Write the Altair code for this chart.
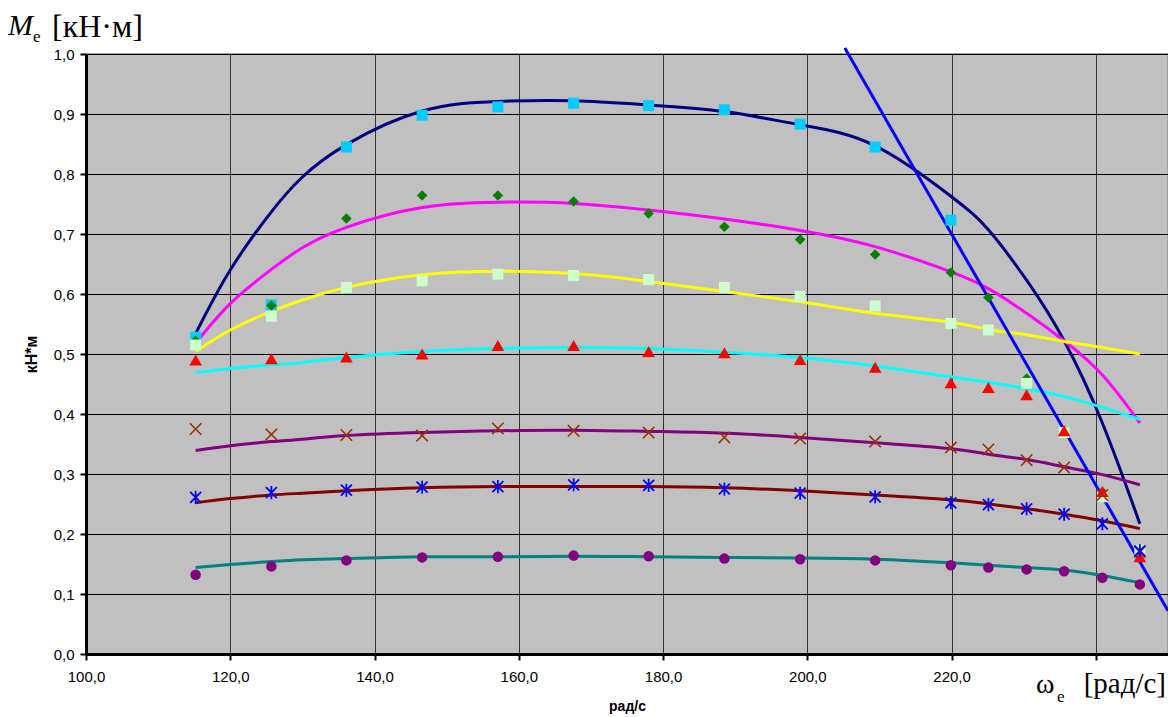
import altair as alt
import pandas as pd

# angular speed of the engine, rad/s (measurement points)
omega = [115.2, 125.7, 136.1, 146.6, 157.1, 167.6, 178.0, 188.5, 199.0, 209.4,
         219.9, 225.1, 230.4, 235.6, 240.9, 246.1]

# measured torque, kN*m (markers)
m_a = [0.528, 0.582, 0.845, 0.898, 0.912, 0.918, 0.914, 0.907, 0.883, 0.845, 0.723]
m_b = [0.522, 0.581, 0.726, 0.764, 0.764, 0.754, 0.734, 0.712, 0.691, 0.666,
       0.636, 0.594, 0.459, 0.372, 0.270, 0.170]
m_c = [0.515, 0.563, 0.611, 0.622, 0.633, 0.631, 0.624, 0.611, 0.596, 0.580,
       0.551, 0.540, 0.451, 0.369, 0.262, 0.173]
m_d = [0.490, 0.492, 0.495, 0.500, 0.514, 0.514, 0.504, 0.502, 0.491, 0.478,
       0.452, 0.444, 0.432, 0.372, 0.271, 0.162]
m_e = [0.375, 0.366, 0.365, 0.364, 0.376, 0.372, 0.369, 0.361, 0.359, 0.354,
       0.344, 0.341, 0.323, 0.311, 0.265, 0.170]
m_f = [0.261, 0.269, 0.273, 0.278, 0.279, 0.282, 0.281, 0.275, 0.268, 0.262,
       0.252, 0.249, 0.242, 0.233, 0.217, 0.172]
m_g = [0.132, 0.146, 0.156, 0.161, 0.162, 0.164, 0.163, 0.159, 0.158, 0.156,
       0.148, 0.144, 0.141, 0.138, 0.127, 0.116]

# smoothed (trend) curves, read at these speeds
line_x = [115.2, 120.0, 125.7, 130.0, 136.1, 146.6, 157.1, 167.6, 178.0, 188.5,
          199.0, 209.4, 219.9, 225.1, 230.4, 235.6, 240.9, 246.1]
l_navy = [0.534, 0.640, 0.737, 0.795, 0.849, 0.905, 0.921, 0.922, 0.915, 0.904,
          0.882, 0.847, 0.763, 0.707, 0.623, 0.522, 0.385, 0.217]
l_magenta = [0.518, 0.584, 0.641, 0.677, 0.711, 0.744, 0.753, 0.751, 0.740, 0.725,
             0.706, 0.679, 0.637, 0.609, 0.568, 0.522, 0.465, 0.385]
l_yellow = [0.504, 0.540, 0.571, 0.590, 0.611, 0.632, 0.638, 0.634, 0.621, 0.604,
            0.587, 0.568, 0.553, 0.541, 0.532, 0.521, 0.511, 0.500]
l_cyan = [0.469, 0.476, 0.482, 0.486, 0.494, 0.504, 0.509, 0.511, 0.509, 0.503,
          0.494, 0.480, 0.462, 0.453, 0.442, 0.429, 0.411, 0.391]
l_purple = [0.339, 0.347, 0.354, 0.358, 0.364, 0.369, 0.372, 0.373, 0.371, 0.368,
            0.361, 0.352, 0.342, 0.333, 0.324, 0.312, 0.299, 0.282]
l_maroon = [0.252, 0.259, 0.265, 0.268, 0.272, 0.277, 0.279, 0.279, 0.279, 0.277,
            0.272, 0.265, 0.257, 0.250, 0.242, 0.233, 0.222, 0.209]
l_teal = [0.144, 0.149, 0.154, 0.157, 0.159, 0.162, 0.162, 0.163, 0.162, 0.161,
          0.160, 0.158, 0.152, 0.148, 0.144, 0.140, 0.131, 0.119]

# straight limiting line
limit_x = [205.2, 250.0]
limit_y = [1.01, 0.072]

x_ticks = [100, 120, 140, 160, 180, 200, 220, 240]
y_ticks = [0.0, 0.1, 0.2, 0.3, 0.4, 0.5, 0.6, 0.7, 0.8, 0.9, 1.0]

line_series = [
    ("navy", l_navy, "#000080"),
    ("magenta", l_magenta, "#FF00FF"),
    ("yellow", l_yellow, "#FFFF00"),
    ("cyan", l_cyan, "#00FFFF"),
    ("purple", l_purple, "#800080"),
    ("maroon", l_maroon, "#800000"),
    ("teal", l_teal, "#008080"),
]

X_PATH = "M-1,-1L1,1M-1,1L1,-1"
AST_PATH = "M-1,-1L1,1M-1,1L1,-1M0,-1.2L0,1.2"

marker_series = [
    ("A", m_a, "square", "#00CCFF", 121, True, 0),
    ("B", m_b, "diamond", "#008000", 110, True, 0),
    ("C", m_c, "square", "#CCFFCC", 121, True, 0),
    ("D", m_d, "triangle-up", "#FF0000", 160, True, 0),
    ("E", m_e, X_PATH, "#993300", 130, False, 1.6),
    ("F", m_f, AST_PATH, "#0000FF", 120, False, 1.8),
    ("G", m_g, "circle", "#800080", 110, True, 0),
]

lines_df = pd.DataFrame(
    [{"s": n, "x": xv, "y": yv} for n, ys, _ in line_series for xv, yv in zip(line_x, ys)]
)
limit_df = pd.DataFrame({"x": limit_x, "y": limit_y})

x_enc = alt.X(
    "x:Q",
    scale=alt.Scale(domain=[100, 250], nice=False, zero=False),
    axis=alt.Axis(
        values=x_ticks,
        labelExpr="datum.value == 240 ? '' : replace(format(datum.value, '.1f'), '.', ',')",
        title="рад/с",
        titleFont="Liberation Sans",
        titleFontSize=14,
        titleFontWeight="bold",
        titleColor="black",
        titleX=541,
        titleY=52,
        titleBaseline="middle",
        titleAlign="center",
        labelFont="Liberation Sans",
        labelFontSize=15,
        labelColor="black",
        labelPadding=9,
        domainColor="black",
        domainWidth=3,
        tickColor="black",
        tickWidth=2,
        tickSize=6,
        gridColor="#333333",
        gridWidth=1,
        labelFlush=False,
    ),
)
y_enc = alt.Y(
    "y:Q",
    scale=alt.Scale(domain=[0, 1], nice=False, zero=False),
    axis=alt.Axis(
        values=y_ticks,
        labelExpr="replace(format(datum.value, '.1f'), '.', ',')",
        title="кН*м",
        titleFont="Liberation Sans",
        titleFontSize=16,
        titleFontWeight="bold",
        titleColor="black",
        titleAngle=-90,
        titleX=-47,
        titleY=300,
        titleAlign="center",
        titleBaseline="bottom",
        labelFont="Liberation Sans",
        labelFontSize=15,
        labelColor="black",
        labelPadding=6,
        domainColor="black",
        domainWidth=3,
        tickColor="black",
        tickWidth=2,
        tickSize=6,
        gridColor="#000000",
        gridWidth=1,
        labelFlush=False,
    ),
)

lines = alt.Chart(lines_df).mark_line(strokeWidth=3, interpolate="natural").encode(
    x=x_enc,
    y=y_enc,
    color=alt.Color(
        "s:N",
        scale=alt.Scale(domain=[n for n, _, _ in line_series], range=[c for _, _, c in line_series]),
        legend=None,
    ),
    detail="s:N",
)

limit = alt.Chart(limit_df).mark_line(strokeWidth=3, color="#0000FF", clip=False).encode(
    x=x_enc, y=y_enc
)

layers = [lines, limit]
for name, vals, shape, col, size, filled, sw in marker_series:
    df = pd.DataFrame({"x": omega[: len(vals)], "y": vals})
    if filled:
        mk = alt.Chart(df).mark_point(shape=shape, filled=True, fill=col, fillOpacity=1,
                                      size=size, strokeWidth=0)
    else:
        mk = alt.Chart(df).mark_point(shape=shape, filled=False, stroke=col, strokeWidth=sw,
                                      size=size, opacity=1)
    layers.append(mk.encode(x=x_enc, y=y_enc))

dummy = alt.Data(values=[{}])


def label(txt, x, y, size, style="normal", align="left"):
    return alt.Chart(dummy).mark_text(
        text=txt, font="Liberation Serif", fontSize=size, fontStyle=style,
        align=align, baseline="alphabetic", color="black",
    ).encode(x=alt.value(x), y=alt.value(y))


layers += [
    label("M", -78, -19, 30, style="italic"),
    label("e", -53, -12, 17),
    label("[кН·м]", -34, -17, 32),
    label("ω", 950, 639, 28),
    label("e", 971, 648, 17),
    label("[рад/с]", 1080, 639, 29, align="right"),
]

chart = alt.layer(*layers).properties(
    width=1082,
    height=600,
    autosize=alt.AutoSizeParams(type="none"),
    padding={"left": 78, "top": 46, "right": 0, "bottom": 62},
    background="white",
).configure_view(
    fill="#C0C0C0", stroke="#A0A0A0", strokeWidth=2
)

chart.save("out.html", embed_options={"renderer": "svg", "actions": False})
